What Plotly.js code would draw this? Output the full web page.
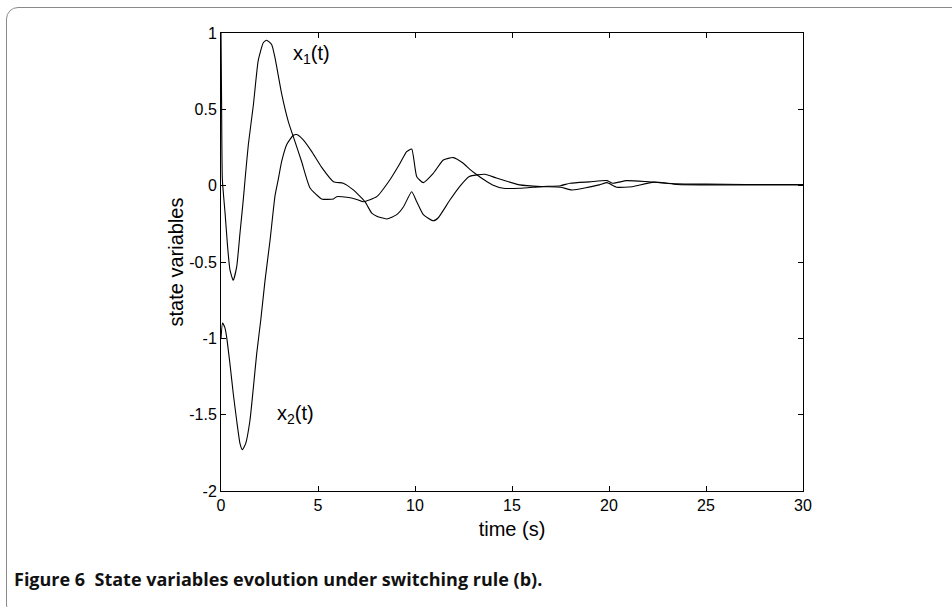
<!DOCTYPE html>
<html>
<head>
<meta charset="utf-8">
<script src="https://cdn.plot.ly/plotly-3.0.1.min.js"></script>
<style>
  html, body { margin: 0; padding: 0; background: #fff; }
  #wrap { position: relative; width: 952px; height: 607px; overflow: hidden; }
  #chart { width: 952px; height: 607px; }
  #frame { position: absolute; left: 6px; top: 7px; width: 960px; height: 610px;
           border: 1px solid #8a8a8a; border-radius: 12px; pointer-events: none; box-sizing: border-box; }
</style>
</head>
<body>
<div id="wrap">
  <div id="chart"></div>
  <div id="frame"></div>
</div>
<script>
// x1(t)
const t1 = [0, 0.03, 0.07, 0.21, 0.34, 0.46, 0.63, 0.81, 0.98, 1.15, 1.24, 1.41, 1.67, 1.92, 2.18, 2.35, 2.61, 2.78, 3.13, 3.47, 3.81, 4.15, 4.59, 5.19, 5.5, 5.8, 5.96, 6.49, 7.0, 7.34, 8.03, 8.7, 9.23, 9.57, 9.83, 10.09, 10.43, 10.94, 11.46, 11.97, 12.49, 12.8, 13.1, 13.6, 14.0, 14.55, 15.4, 16.5, 17.5, 18.0, 19.0, 19.9, 20.2, 20.9, 21.9, 22.6, 23.5, 25, 27, 30];
const x1 = [1.0, 0.55, 0.04, -0.18, -0.40, -0.55, -0.62, -0.53, -0.31, -0.09, 0.04, 0.27, 0.53, 0.82, 0.936, 0.953, 0.925, 0.84, 0.60, 0.42, 0.29, 0.16, -0.015, -0.087, -0.09, -0.087, -0.072, -0.076, -0.09, -0.105, -0.072, 0.037, 0.147, 0.223, 0.24, 0.059, 0.02, 0.08, 0.168, 0.184, 0.147, 0.11, 0.08, 0.035, 0.005, -0.017, -0.017, -0.006, 0.0, 0.016, 0.025, 0.033, 0.016, 0.033, 0.027, 0.02, 0.012, 0.01, 0.008, 0.008];
// x2(t)
const t2 = [0, 0.08, 0.2, 0.29, 0.46, 0.63, 0.81, 0.98, 1.1, 1.27, 1.49, 1.67, 1.84, 2.05, 2.27, 2.53, 2.78, 2.95, 3.13, 3.39, 3.73, 3.9, 4.24, 4.67, 5.19, 5.8, 6.3, 6.82, 7.42, 7.77, 8.03, 8.54, 9.06, 9.4, 9.83, 10.09, 10.43, 10.94, 11.2, 11.8, 12.3, 12.8, 13.6, 14.2, 15.4, 16.5, 17.5, 18.1, 19.5, 19.9, 20.4, 21.2, 22.3, 23.5, 25, 27, 30];
const x2 = [-1.0, -0.9, -0.93, -0.99, -1.165, -1.36, -1.54, -1.69, -1.73, -1.69, -1.54, -1.32, -1.10, -0.88, -0.62, -0.356, -0.07, 0.04, 0.16, 0.27, 0.33, 0.335, 0.30, 0.225, 0.12, 0.026, 0.016, -0.028, -0.105, -0.18, -0.20, -0.218, -0.19, -0.14, -0.04, -0.105, -0.19, -0.23, -0.21, -0.094, -0.006, 0.06, 0.075, 0.05, 0.005, -0.006, -0.01, -0.028, 0.005, 0.02, -0.01, -0.007, 0.023, 0.008, 0.005, 0.005, 0.005];

const xTicks = [0, 5, 10, 15, 20, 25, 30];
const xTickText = ["0", "5", "10", "15", "20", "25", "30"];
const yTicks = [-2, -1.5, -1, -0.5, 0, 0.5, 1];
const yTickText = ["-2", "-1.5", "-1", "-0.5", "0", "0.5", "1"];

const xTitle = "time (s)";
const yTitle = "state variables";
const caption = "Figure 6  State variables evolution under switching rule (b).";
const label1 = "x<sub>1</sub>(t)";
const label2 = "x<sub>2</sub>(t)";

const FONT = "Liberation Sans, Arial, Helvetica, sans-serif";

const traces = [
  { x: t1, y: x1, type: "scatter", mode: "lines", line: { color: "#000", width: 1.1, shape: "spline", smoothing: 0.5 }, name: "x1(t)", showlegend: false },
  { x: t2, y: x2, type: "scatter", mode: "lines", line: { color: "#000", width: 1.1, shape: "spline", smoothing: 0.5 }, name: "x2(t)", showlegend: false }
];

const layout = {
  width: 952, height: 607,
  margin: { l: 221, r: 149, t: 33, b: 116 },
  paper_bgcolor: "#fff", plot_bgcolor: "#fff",
  font: { family: FONT, size: 16, color: "#000" },
  showlegend: false,
  xaxis: {
    range: [0, 30], tickvals: xTicks, ticktext: xTickText,
    ticks: "inside", ticklen: 5, tickcolor: "#000", mirror: "ticks",
    showline: true, linecolor: "#000", linewidth: 1, showgrid: false, zeroline: false,
    tickfont: { family: FONT, size: 16 },
    title: { text: xTitle, font: { family: FONT, size: 20 }, standoff: 8 }
  },
  yaxis: {
    range: [-2, 1], tickvals: yTicks, ticktext: yTickText,
    ticks: "inside", ticklen: 5, tickcolor: "#000", mirror: "ticks",
    showline: true, linecolor: "#000", linewidth: 1, showgrid: false, zeroline: false,
    tickfont: { family: FONT, size: 16 },
    title: { text: yTitle, font: { family: FONT, size: 20 }, standoff: 0 }
  },
  annotations: [
    { x: 3.6, y: 0.86, xref: "x", yref: "y", text: label1, showarrow: false, xanchor: "left", yanchor: "middle", font: { family: FONT, size: 20 } },
    { x: 2.8, y: -1.5, xref: "x", yref: "y", text: label2, showarrow: false, xanchor: "left", yanchor: "middle", font: { family: FONT, size: 20 } },
    { x: (12 - 221) / 582, y: (491 - 579) / 458, xref: "paper", yref: "paper", text: "<b>" + caption + "</b>", showarrow: false, xanchor: "left", yanchor: "middle", font: { family: "Open Sans, Noto Sans, sans-serif", size: 18, color: "#111" } }
  ]
};

Plotly.newPlot("chart", traces, layout, { displayModeBar: false, staticPlot: true });
</script>
</body>
</html>
